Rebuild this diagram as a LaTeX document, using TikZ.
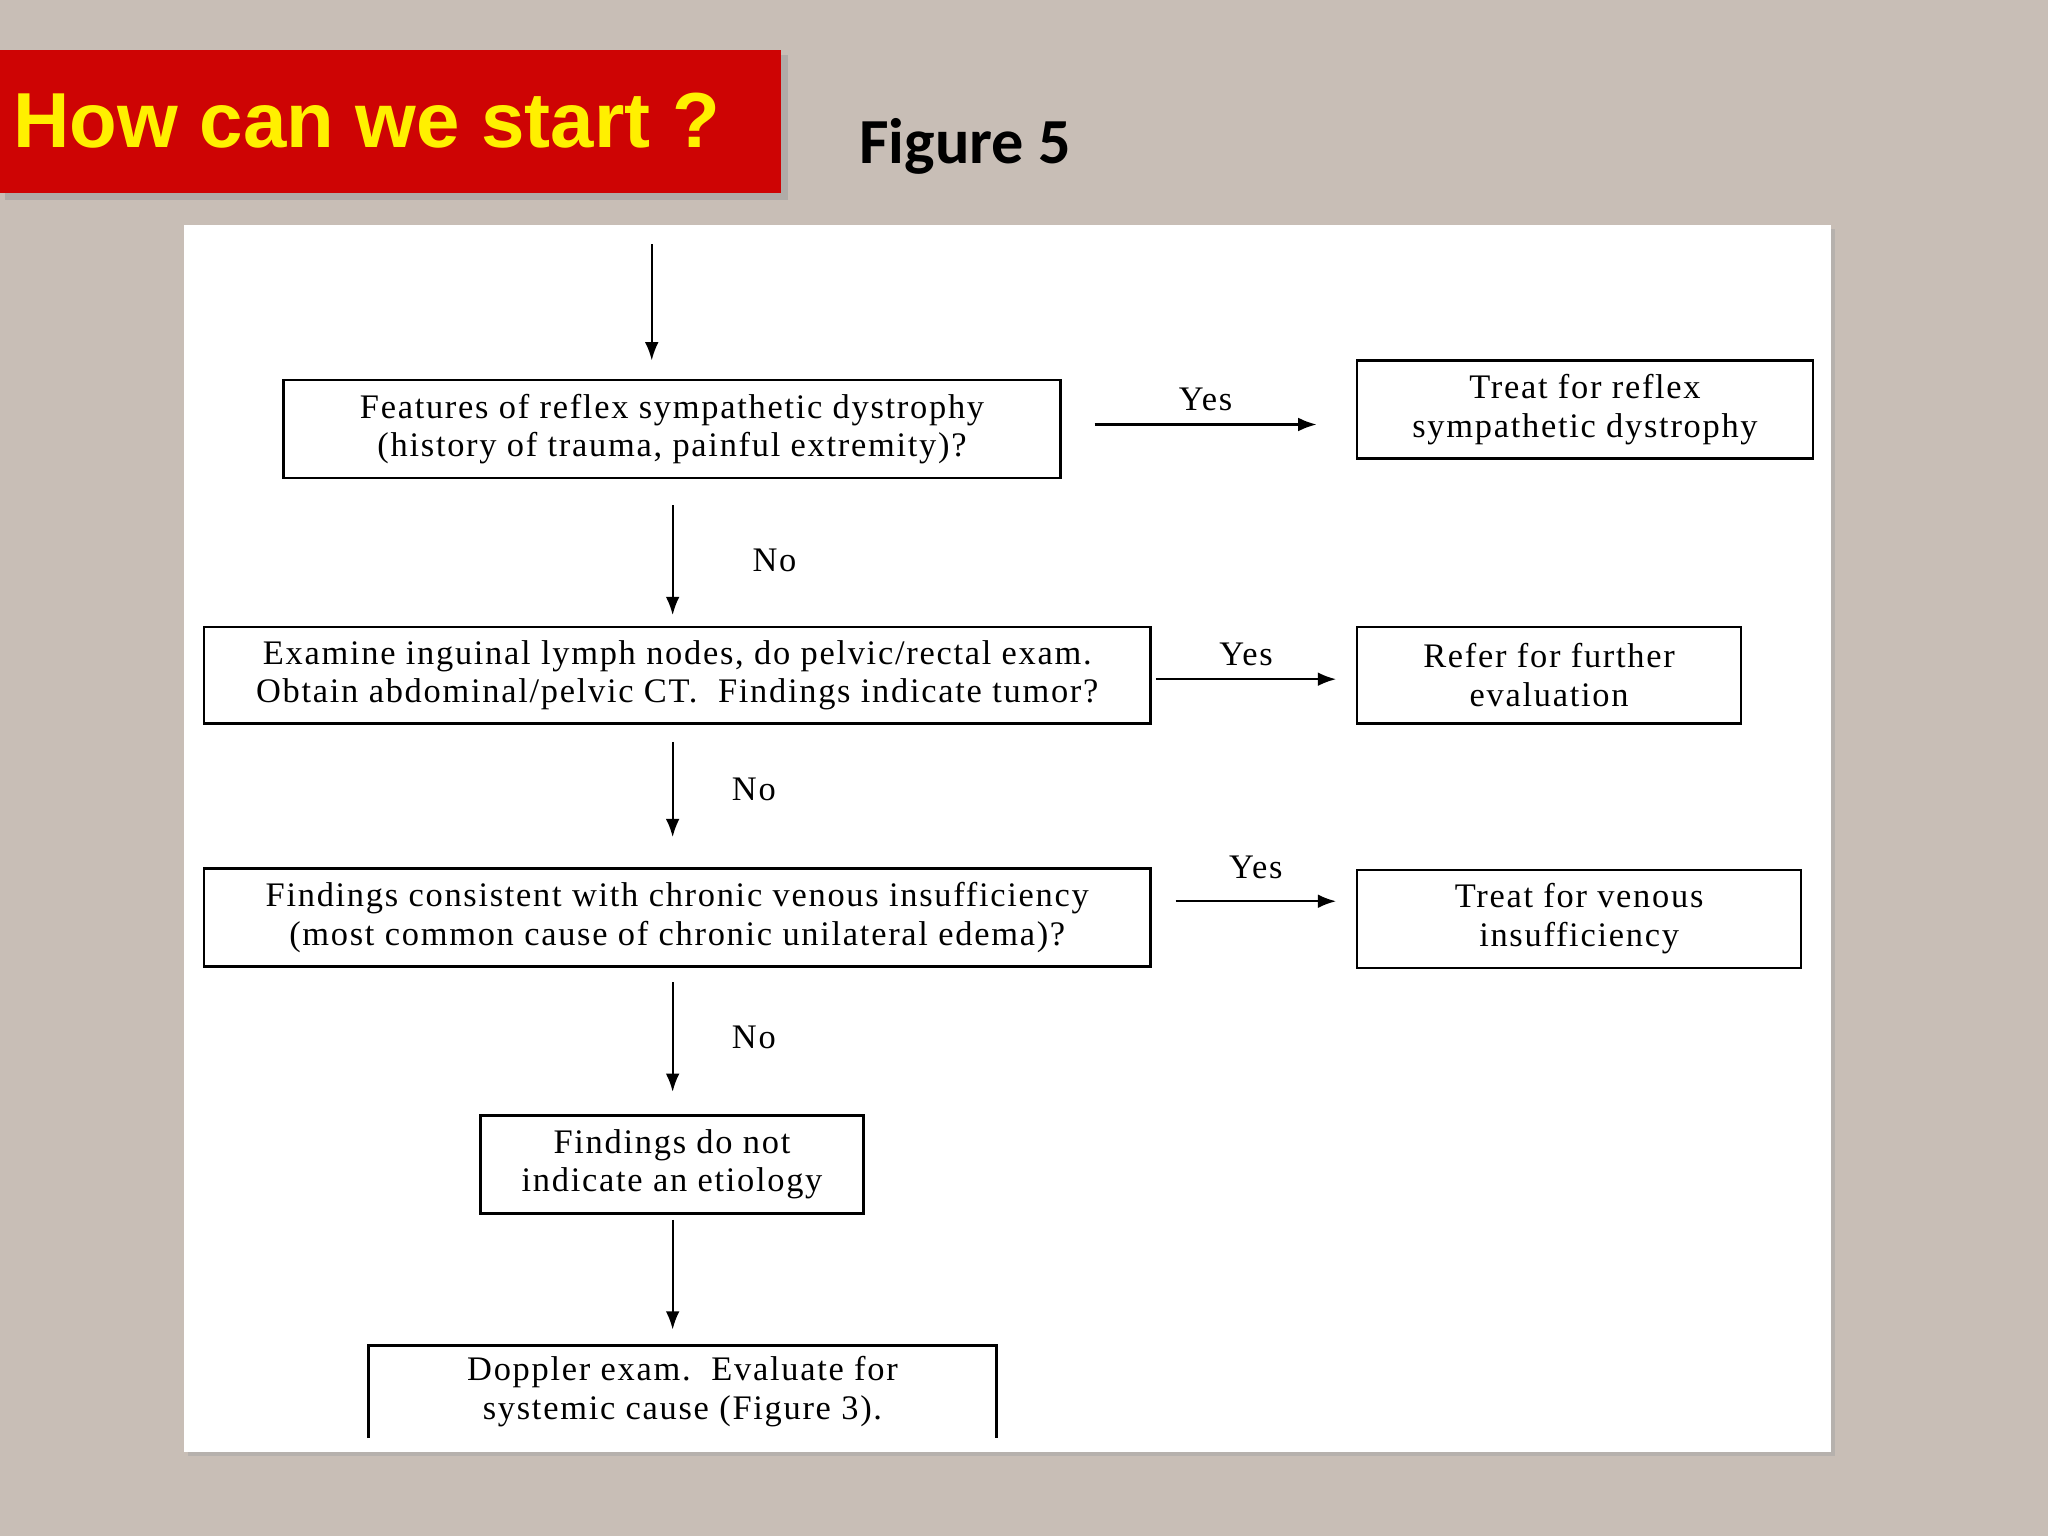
\documentclass[tikz,border=0pt]{standalone}
\usepackage{fontspec}
\setmainfont{Liberation Serif}[LetterSpace=5]
\newfontfamily\banner{Liberation Sans}
\newfontfamily\figf{Carlito}
\usetikzlibrary{arrows.meta}
\definecolor{bg}{RGB}{200,190,182}
\definecolor{bannerred}{RGB}{206,4,4}
\definecolor{ylw}{RGB}{255,240,0}
\tikzset{
  box/.style={draw, line width=1.1pt, align=center, inner sep=0pt, font=\fontsize{15}{16.8}\selectfont},
  arr/.style={-{Latex[length=8pt,width=6pt]}, line width=1pt},
  lbl/.style={font=\fontsize{15}{16}\selectfont}
}
\begin{document}
\begin{tikzpicture}[x=0.02cm,y=-0.02cm]
\useasboundingbox (0,0) rectangle (1568,1176);
\fill[bg] (0,0) rectangle (1568,1176);
% banner
\fill[black!40,opacity=0.5] (4,42) rectangle (603,153);
\fill[bannerred] (0,38) rectangle (598,148);
\node[anchor=west, text=ylw, font=\banner\bfseries\fontsize{34}{38}\selectfont] (title) at (4,92) {How can we start ?};
\node[font=\figf\bfseries\fontsize{28}{30}\selectfont] (fig) at (739,112) {Figure 5};
% panel
\fill[black!35,opacity=0.5] (144,175) rectangle (1405,1115);
\fill[white] (141,172) rectangle (1402,1112);
% boxes
\node[box, minimum width=11.9cm, minimum height=1.5cm] (b1) at (514.5,328.5) {Features of reflex sympathetic dystrophy\\(history of trauma, painful extremity)?};
\node[box, minimum width=6.98cm, minimum height=1.5cm] (r1) at (1213.5,313.5) {Treat for reflex\\sympathetic dystrophy};
\node[box, minimum width=14.5cm, minimum height=1.48cm] (b2) at (518.5,517) {Examine inguinal lymph nodes, do pelvic/rectal exam.\\Obtain abdominal/pelvic CT.\ \ Findings indicate tumor?};
\node[box, minimum width=5.88cm, minimum height=1.48cm] (r2) at (1186,517) {Refer for further\\evaluation};
\node[box, minimum width=14.5cm, minimum height=1.5cm] (b3) at (518.5,702.5) {Findings consistent with chronic venous insufficiency\\(most common cause of chronic unilateral edema)?};
\node[box, minimum width=6.8cm, minimum height=1.5cm] (r3) at (1209,703.5) {Treat for venous\\insufficiency};
\node[box, minimum width=5.86cm, minimum height=1.5cm] (b4) at (514.5,891.5) {Findings do not\\indicate an etiology};
\node[box, draw=none, minimum width=9.58cm, minimum height=1.38cm] (b5) at (522.5,1065.5) {Doppler exam.\ \ Evaluate for\\systemic cause (Figure 3).};
\draw[line width=1.1pt] (b5.south west) -- (b5.north west) -- (b5.north east) -- (b5.south east);
% arrows
\coordinate (s0) at (499,187); \coordinate (e0) at (499,276);
\draw[arr] (s0) -- (e0);
\coordinate (s1) at (515,387); \coordinate (e1) at (515,471);
\draw[arr] (s1) -- node[lbl, right=31pt] {No} (e1);
\coordinate (y1s) at (838,325); \coordinate (y1e) at (1008,325);
\draw[arr] (y1s) -- node[lbl, above=2pt] {Yes} (y1e);
\coordinate (y2s) at (885,520); \coordinate (y2e) at (1023,520);
\draw[arr] (y2s) -- node[lbl, above=2pt] {Yes} (y2e);
\coordinate (s2) at (515,568); \coordinate (e2) at (515,641);
\draw[arr] (s2) -- node[lbl, right=22pt] {No} (e2);
\coordinate (y3s) at (900,690); \coordinate (y3e) at (1023,690);
\draw[arr] (y3s) -- node[lbl, above=6pt] {Yes} (y3e);
\coordinate (s3) at (515,752); \coordinate (e3) at (515,836);
\draw[arr] (s3) -- node[lbl, right=22pt] {No} (e3);
\coordinate (s4) at (515,934); \coordinate (e4) at (515,1018);
\draw[arr] (s4) -- (e4);
\end{tikzpicture}
\end{document}
